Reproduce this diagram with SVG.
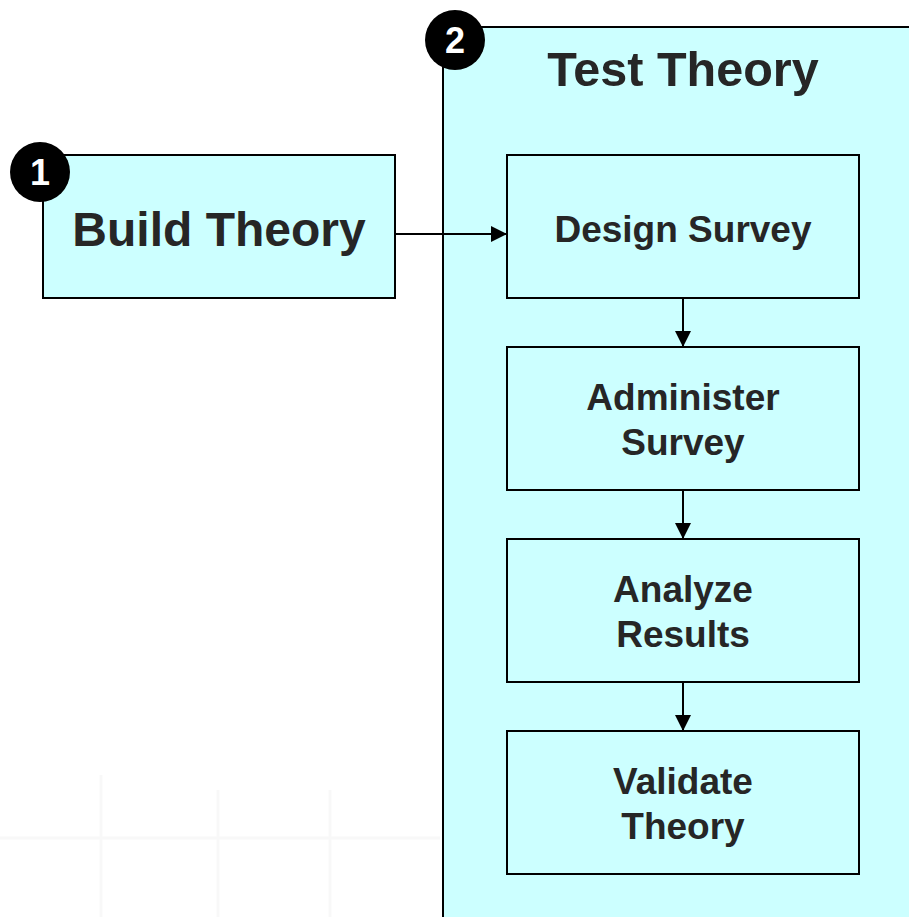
<svg xmlns="http://www.w3.org/2000/svg" width="909" height="917" viewBox="0 0 909 917">
  <style>
    .box { fill: #ccffff; stroke: #000; stroke-width: 2; }
    .label { font-family: "Liberation Sans", Arial, sans-serif; font-weight: bold; fill: #262626; text-anchor: middle; }
    .step { font-size: 37px; }
    .badge circle { fill: #000; }
    .badge text { font-family: "Liberation Sans", Arial, sans-serif; font-weight: bold; font-size: 36px; fill: #fff; text-anchor: middle; }
    .conn { stroke: #000; stroke-width: 2; fill: none; }
    .grid { stroke: #f8f8f8; stroke-width: 3; fill: none; }
  </style>
  <defs>
    <marker id="arrow" viewBox="0 0 10 10" refX="10" refY="5" markerWidth="16" markerHeight="16" markerUnits="userSpaceOnUse" orient="auto">
      <path d="M0,0 L10,5 L0,10 Z" fill="#000"/>
    </marker>
  </defs>
  <rect width="909" height="917" fill="#fff"/>

  <!-- faint background grid -->
  <g id="background-grid">
    <line class="grid" x1="0" y1="838" x2="440" y2="838"/>
    <line class="grid" x1="101" y1="775" x2="101" y2="917"/>
    <line class="grid" x1="218" y1="790" x2="218" y2="917"/>
    <line class="grid" x1="330" y1="790" x2="330" y2="917"/>
  </g>

  <!-- test theory container -->
  <g id="test-theory">
    <rect class="box" x="443" y="27" width="480" height="910"/>
    <text class="label" x="683" y="86" font-size="48.5">Test Theory</text>
  </g>

  <g id="build-theory">
    <rect class="box" x="43" y="155" width="352" height="143"/>
    <text class="label" x="219" y="246" font-size="48">Build Theory</text>
  </g>

  <g id="design-survey">
    <rect class="box" x="507" y="155" width="352" height="143"/>
    <text class="label step" x="683" y="242">Design Survey</text>
  </g>

  <g id="administer-survey">
    <rect class="box" x="507" y="347" width="352" height="143"/>
    <text class="label step" x="683" y="410">Administer</text>
    <text class="label step" x="683" y="455">Survey</text>
  </g>

  <g id="analyze-results">
    <rect class="box" x="507" y="539" width="352" height="143"/>
    <text class="label step" x="683" y="602">Analyze</text>
    <text class="label step" x="683" y="647">Results</text>
  </g>

  <g id="validate-theory">
    <rect class="box" x="507" y="731" width="352" height="143"/>
    <text class="label step" x="683" y="794">Validate</text>
    <text class="label step" x="683" y="839">Theory</text>
  </g>

  <g id="connectors">
    <line class="conn" x1="395" y1="234" x2="507" y2="234" marker-end="url(#arrow)"/>
    <line class="conn" x1="683" y1="298" x2="683" y2="347" marker-end="url(#arrow)"/>
    <line class="conn" x1="683" y1="490" x2="683" y2="539" marker-end="url(#arrow)"/>
    <line class="conn" x1="683" y1="682" x2="683" y2="731" marker-end="url(#arrow)"/>
  </g>

  <g id="badge-1" class="badge">
    <circle cx="40" cy="172" r="30"/>
    <text x="40" y="185">1</text>
  </g>
  <g id="badge-2" class="badge">
    <circle cx="455" cy="40" r="30"/>
    <text x="455" y="53">2</text>
  </g>
</svg>
